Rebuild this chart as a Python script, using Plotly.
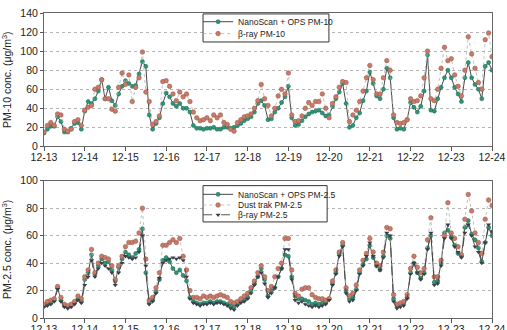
import plotly.graph_objects as go
import pandas as pd

# 2-hourly samples, 12-13 00:00 .. 12-24 00:00
start_time = "2013-12-13 00:00"
n_points = 133
tick_labels_fmt = "%m-%d"

nano_pm10 = [14, 18, 21, 21, 31, 26, 15, 15, 19, 24, 25, 18,
             37, 47, 45, 50, 58, 70, 50, 62, 48, 43, 55, 63,
             69, 66, 63, 64, 76, 89, 84, 33, 18, 24, 30, 45,
             56, 52, 45, 42, 45, 40, 40, 36, 22, 19, 19, 18,
             19, 19, 20, 18, 18, 20, 20, 19, 20, 22, 24, 27,
             29, 31, 36, 45, 48, 43, 28, 29, 36, 40, 46, 52,
             63, 30, 22, 23, 27, 31, 34, 36, 37, 38, 35, 32,
             33, 42, 50, 57, 66, 45, 20, 22, 30, 35, 48, 58,
             78, 66, 53, 50, 60, 82, 72, 30, 18, 19, 18, 28,
             46, 41, 36, 42, 58, 96, 38, 37, 50, 62, 72, 80,
             72, 62, 55, 47, 72, 88, 72, 65, 60, 50, 84, 88,
             80]
beta_pm10 = [15, 22, 25, 22, 34, 33, 18, 16, 18, 26, 28, 22,
             38, 41, 43, 60, 62, 70, 50, 50, 39, 37, 62, 77,
             65, 75, 47, 62, 72, 99, 57, 47, 23, 26, 32, 68,
             69, 63, 55, 48, 57, 52, 55, 47, 36, 30, 27, 28,
             30, 27, 33, 30, 33, 25, 23, 18, 16, 25, 28, 31,
             32, 34, 40, 48, 65, 50, 43, 32, 40, 53, 60, 55,
             77, 33, 26, 27, 32, 40, 46, 43, 47, 47, 55, 40,
             30, 45, 52, 62, 68, 67, 26, 33, 38, 47, 58, 72,
             85, 70, 55, 55, 72, 90, 80, 33, 25, 24, 25, 28,
             50, 47, 48, 53, 72, 100, 50, 48, 60, 82, 104, 90,
             92, 75, 63, 53, 80, 115, 97, 82, 67, 60, 112, 119,
             94]
nano_pm25 = [9, 10, 11, 13, 22, 13, 9, 8, 9, 11, 14, 12,
             28, 33, 46, 32, 38, 43, 40, 41, 35, 27, 37, 43,
             48, 46, 44, 47, 50, 65, 33, 11, 13, 19, 28, 42,
             44, 41, 36, 33, 35, 31, 27, 15, 12, 11, 10, 11,
             11, 12, 11, 12, 12, 11, 10, 9, 8, 10, 12, 13,
             15, 20, 25, 30, 36, 28, 16, 20, 22, 30, 36, 46,
             45, 30, 16, 14, 14, 13, 12, 10, 11, 10, 11, 11,
             14, 25, 33, 47, 53, 20, 14, 15, 21, 33, 39, 43,
             53, 44, 38, 35, 45, 60, 58, 14, 9, 10, 11, 15,
             33, 40, 33, 29, 33, 51, 60, 26, 27, 40, 62, 64,
             59, 53, 47, 45, 66, 71, 61, 57, 51, 41, 55, 66,
             60]
dust_pm25 = [10, 12, 13, 14, 23, 15, 10, 9, 10, 12, 16, 14,
             30, 35, 50, 33, 40, 45, 44, 43, 38, 28, 38, 45,
             52, 55, 55, 56, 62, 80, 43, 13, 15, 22, 33, 53,
             53, 55, 57, 55, 58, 45, 35, 20, 15, 15, 14, 16,
             15, 16, 15, 16, 17, 16, 15, 12, 11, 12, 14, 16,
             18, 22, 27, 33, 38, 30, 20, 23, 30, 36, 40, 58,
             58, 35, 18, 16, 21, 22, 22, 17, 15, 14, 14, 13,
             14, 27, 35, 48, 55, 22, 16, 18, 24, 35, 42, 47,
             58, 48, 40, 38, 48, 66, 65, 17, 10, 11, 12, 17,
             36, 45, 37, 33, 36, 57, 73, 30, 30, 42, 60, 84,
             62, 58, 52, 46, 72, 90, 78, 62, 55, 47, 72, 86,
             82]
beta_pm25 = [8, 9, 10, 12, 21, 12, 8, 7, 8, 10, 13, 11,
             24, 30, 42, 30, 36, 40, 38, 36, 33, 24, 33, 40,
             45, 44, 43, 44, 48, 60, 38, 10, 12, 18, 29, 40,
             42, 43, 44, 43, 44, 42, 30, 14, 11, 10, 9, 10,
             10, 11, 10, 11, 11, 10, 9, 7, 6, 9, 11, 12,
             14, 18, 24, 30, 33, 25, 15, 18, 22, 30, 36, 50,
             50, 28, 13, 11, 12, 10, 9, 8, 9, 8, 9, 10,
             13, 24, 32, 45, 52, 18, 12, 13, 20, 32, 38, 45,
             55, 45, 38, 35, 44, 62, 60, 12, 7, 8, 9, 14,
             32, 40, 33, 28, 32, 50, 62, 24, 25, 38, 58, 68,
             58, 52, 48, 44, 62, 68, 60, 52, 48, 40, 55, 68,
             63]

times = pd.date_range(start_time, periods=n_points, freq="2h")

GREEN = "#2f9577"
RED = "#c97a68"
DARK = "#3a3f4a"
FONT = "Liberation Sans, Arial, sans-serif"

fig = go.Figure()

fig.add_trace(go.Scatter(x=times, y=nano_pm10, name="NanoScan + OPS PM-10",
    mode="lines+markers", xaxis="x", yaxis="y", legend="legend",
    line=dict(color="#333333", width=0.9),
    marker=dict(color=GREEN, size=4, line=dict(color="#1f6e57", width=0.6))))
fig.add_trace(go.Scatter(x=times, y=beta_pm10, name="β-ray PM-10",
    mode="lines+markers", xaxis="x", yaxis="y", legend="legend3",
    line=dict(color="#b0b0b0", width=0.8, dash="dot"),
    marker=dict(color=RED, size=4.5, line=dict(color="#9c5a4a", width=0.6))))

fig.add_trace(go.Scatter(x=times, y=nano_pm25, name="NanoScan + OPS PM-2.5",
    mode="lines+markers", xaxis="x2", yaxis="y2", legend="legend2",
    line=dict(color="#333333", width=0.9),
    marker=dict(color=GREEN, size=4, line=dict(color="#1f6e57", width=0.6))))
fig.add_trace(go.Scatter(x=times, y=dust_pm25, name="Dust trak PM-2.5",
    mode="lines+markers", xaxis="x2", yaxis="y2", legend="legend4",
    line=dict(color="#b0b0b0", width=0.8, dash="dot"),
    marker=dict(color=RED, size=4.5, line=dict(color="#9c5a4a", width=0.6))))
fig.add_trace(go.Scatter(x=times, y=beta_pm25, name="β-ray PM-2.5",
    mode="lines+markers", xaxis="x2", yaxis="y2", legend="legend5",
    line=dict(color="#444444", width=0.9, dash="dash"),
    marker=dict(color=DARK, size=4.5, symbol="triangle-down")))

xrange = [times[0], times[-1]]
common_x = dict(range=xrange, type="date", tickformat=tick_labels_fmt,
                dtick=86400000, tick0=times[0], ticks="outside", ticklen=4,
                tickcolor="#555", showline=True, linecolor="#666", linewidth=1,
                mirror=True, showgrid=False, zeroline=False, automargin=False,
                ticklabelstandoff=-3, ticklabeloverflow="allow",
                tickfont=dict(size=10.5, color="#222", family=FONT))
common_y = dict(ticks="outside", ticklen=3, tickcolor="#555", showline=True,
                linecolor="#666", linewidth=1, mirror=True, showgrid=True,
                gridcolor="#b5b5b5", griddash="dot", gridwidth=1, zeroline=False,
                automargin=False, ticklabeloverflow="allow",
                tickfont=dict(size=10.5, color="#222", family=FONT), dtick=20)

def leg(x, y):
    return dict(x=x, y=y, xanchor="left", yanchor="top",
                bgcolor="rgba(0,0,0,0)", borderwidth=0,
                font=dict(size=8.5, family=FONT, color="#222"),
                tracegroupgap=0, itemwidth=30)

fig.update_layout(
    width=507, height=330,
    margin=dict(l=44, r=15, t=7, b=12),
    paper_bgcolor="white", plot_bgcolor="white",
    font=dict(family=FONT, color="#222"),
    xaxis=dict(common_x, domain=[0, 1], anchor="y"),
    yaxis=dict(common_y, domain=[0.5627, 1], range=[0, 140], anchor="x",
               title=dict(text="PM-10 conc. (μg/m<sup>3</sup>)",
                          font=dict(size=10.5, family=FONT), standoff=6)),
    xaxis2=dict(common_x, domain=[0, 1], anchor="y2"),
    yaxis2=dict(common_y, domain=[0, 0.450], range=[0, 100], anchor="x2",
                title=dict(text="PM-2.5 conc. (μg/m<sup>3</sup>)",
                           font=dict(size=10.5, family=FONT), standoff=6)),
    legend=leg(0.344, 1.019),
    legend3=leg(0.344, 0.980),
    legend2=leg(0.344, 0.453),
    legend4=leg(0.344, 0.418),
    legend5=leg(0.344, 0.386),
    showlegend=True,
    shapes=[
        dict(type="rect", xref="paper", yref="paper", x0=0.355, x1=0.636,
             y0=0.905, y1=0.997, fillcolor="white", line=dict(color="#333", width=1),
             layer="above"),
        dict(type="rect", xref="paper", yref="paper", x0=0.355, x1=0.632,
             y0=0.315, y1=0.434, fillcolor="white", line=dict(color="#333", width=1),
             layer="above"),
    ],
)

fig.write_html("out.html")
